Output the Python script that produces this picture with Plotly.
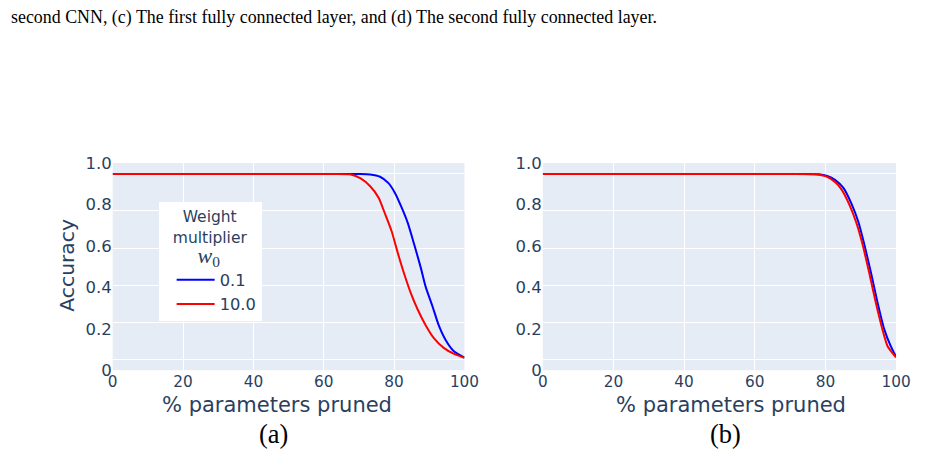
import plotly.graph_objects as go

# ---------------- data ----------------
series_names = ["0.1", "10.0"]
series_colors = ["blue", "red"]

# panel (a)
x_a_w01 = [0, 10, 20, 30, 40, 50, 60, 70, 73.2, 76.0, 78.4, 80.2, 82.1, 83.9, 85.8, 87.6, 89.0, 90.9, 92.7, 94.6, 96.9, 100]
y_a_w01 = [0.947, 0.947, 0.947, 0.947, 0.947, 0.947, 0.947, 0.947, 0.945, 0.934, 0.903, 0.857, 0.787, 0.710, 0.602, 0.494, 0.401, 0.309, 0.216, 0.147, 0.093, 0.061]
x_a_w10 = [0, 10, 20, 30, 40, 50, 60, 67.7, 70.5, 73.2, 75.6, 77.4, 79.3, 81.1, 82.9, 84.8, 86.7, 89.0, 91.3, 94.1, 96.9, 100]
y_a_w10 = [0.947, 0.947, 0.947, 0.947, 0.947, 0.947, 0.947, 0.945, 0.926, 0.888, 0.833, 0.756, 0.671, 0.563, 0.463, 0.370, 0.293, 0.216, 0.155, 0.108, 0.080, 0.060]

# panel (b)
x_b_w01 = [0, 10, 20, 30, 40, 50, 60, 70, 78.2, 80.5, 82.8, 85.1, 87.4, 89.3, 91.1, 93.0, 94.8, 96.6, 98.5, 100]
y_b_w01 = [0.947, 0.947, 0.947, 0.947, 0.947, 0.947, 0.947, 0.947, 0.946, 0.938, 0.918, 0.880, 0.803, 0.718, 0.602, 0.463, 0.324, 0.201, 0.116, 0.065]
x_b_w10 = [0, 10, 20, 30, 40, 50, 60, 70, 77.6, 80.5, 82.8, 84.6, 86.9, 88.8, 90.6, 92.5, 94.3, 96.2, 97.6, 100]
y_b_w10 = [0.947, 0.947, 0.947, 0.947, 0.947, 0.947, 0.947, 0.947, 0.945, 0.934, 0.907, 0.872, 0.795, 0.710, 0.602, 0.463, 0.324, 0.193, 0.116, 0.062]

x_tickvals = [0, 20, 40, 60, 80, 100]
y_tickvals = [0, 0.2, 0.4, 0.6, 0.8, 1.0]
y_ticktext = ["0", "0.2", "0.4", "0.6", "0.8", "1.0"]

caption = "second CNN, (c) The first fully connected layer, and (d) The second fully connected layer."
x_title = "% parameters pruned"
y_title = "Accuracy"
panel_labels = ["(a)", "(b)"]
legend_title = ("&nbsp;&nbsp;Weight<br>multiplier<br>&nbsp;&nbsp;&nbsp;&nbsp;&nbsp;"
                "<span style='font-family:Liberation Serif;font-size:22px'><i>w</i><sub>0</sub></span>")

# ---------------- figure ----------------
# positions are given as fractions of the 936x462 picture; the figure fills the page
W, H = 936, 462
def px(xr):
    return xr / W
def py(yr):
    return (H - yr) / H

FONT = "DejaVu Sans"
TXT = "#2a3f5f"
# the white grid in the original sits slightly off the printed tick labels
grid_positions = [0.05, 0.231, 0.41, 0.59, 0.769, 0.949]

fig = go.Figure()
panels = [
    ("x", "y", [(x_a_w01, y_a_w01), (x_a_w10, y_a_w10)], True),
    ("x2", "y2", [(x_b_w01, y_b_w01), (x_b_w10, y_b_w10)], False),
]
for xa, ya, data, show in panels:
    for (xs, ys), name, col in zip(data, series_names, series_colors):
        fig.add_trace(go.Scatter(
            x=xs, y=ys, mode="lines", name=name, xaxis=xa, yaxis=ya,
            line=dict(color=col, width=2, shape="spline", smoothing=0.6),
            showlegend=show,
        ))

xdom_a = [px(110), px(469.5)]
xdom_b = [px(549.5), px(910.5)]
ydom = [py(376.7), py(160.7)]

def xax(dom, anchor):
    return dict(domain=dom, anchor=anchor, range=[0, 100], tickvals=x_tickvals,
                showgrid=True, gridcolor="white", gridwidth=1, zeroline=False,
                ticks="", tickfont=dict(size=15.3, color=TXT, family=FONT), showline=False)

def yax(anchor):
    return dict(domain=ydom, anchor=anchor, range=[0, 1],
                tickvals=y_tickvals, ticktext=y_ticktext,
                showgrid=False, zeroline=False, ticks="", showline=False,
                tickfont=dict(size=16.5, color=TXT, family=FONT),
                minor=dict(tickvals=grid_positions, showgrid=True, gridcolor="white",
                           gridwidth=1, ticks=""))

fig.update_layout(
    autosize=True,
    margin=dict(l=0, r=0, t=0, b=0),
    paper_bgcolor="white", plot_bgcolor="#E5ECF6",
    font=dict(family=FONT, color=TXT, size=16),
    xaxis=xax(xdom_a, "y"),
    xaxis2=xax(xdom_b, "y2"),
    yaxis=yax("x"),
    yaxis2=yax("x2"),
    legend=dict(x=px(157), y=py(201.5), xanchor="left", yanchor="top",
                bgcolor="white", borderwidth=0, tracegroupgap=0,
                itemwidth=38, indentation=13,
                font=dict(size=16.3, color=TXT, family=FONT),
                title=dict(text=legend_title, side="top center",
                           font=dict(size=15.5, color=TXT, family=FONT))),
    showlegend=True,
)

ann = [
    dict(text=caption, x=px(4), y=py(9), xanchor="left", yanchor="middle",
         font=dict(family="Liberation Serif", size=17.9, color="black")),
    dict(text=y_title, x=px(63.3), y=py(266.7), textangle=-90,
         xanchor="center", yanchor="middle", font=dict(size=20.3, color=TXT, family=FONT)),
    dict(text=x_title, x=px(278), y=py(413), xanchor="center", yanchor="middle",
         font=dict(size=21, color=TXT, family=FONT)),
    dict(text=x_title, x=px(742), y=py(413), xanchor="center", yanchor="middle",
         font=dict(size=21, color=TXT, family=FONT)),
    dict(text=panel_labels[0], x=px(274), y=py(443), xanchor="center", yanchor="middle",
         font=dict(size=26.4, color="black", family="Liberation Serif")),
    dict(text=panel_labels[1], x=px(736), y=py(443), xanchor="center", yanchor="middle",
         font=dict(size=26.4, color="black", family="Liberation Serif")),
]
for a in ann:
    a.update(xref="paper", yref="paper", showarrow=False)
fig.update_layout(annotations=ann)

# figure fills the page exactly (no default body margin, no scrollbars, no modebar)
fig.write_html(
    "out.html",
    config={"displayModeBar": False},
    default_width="100vw",
    default_height="100vh",
    post_script="document.body.style.margin='0';document.body.style.overflow='hidden';"
                "document.documentElement.style.overflow='hidden';",
)
